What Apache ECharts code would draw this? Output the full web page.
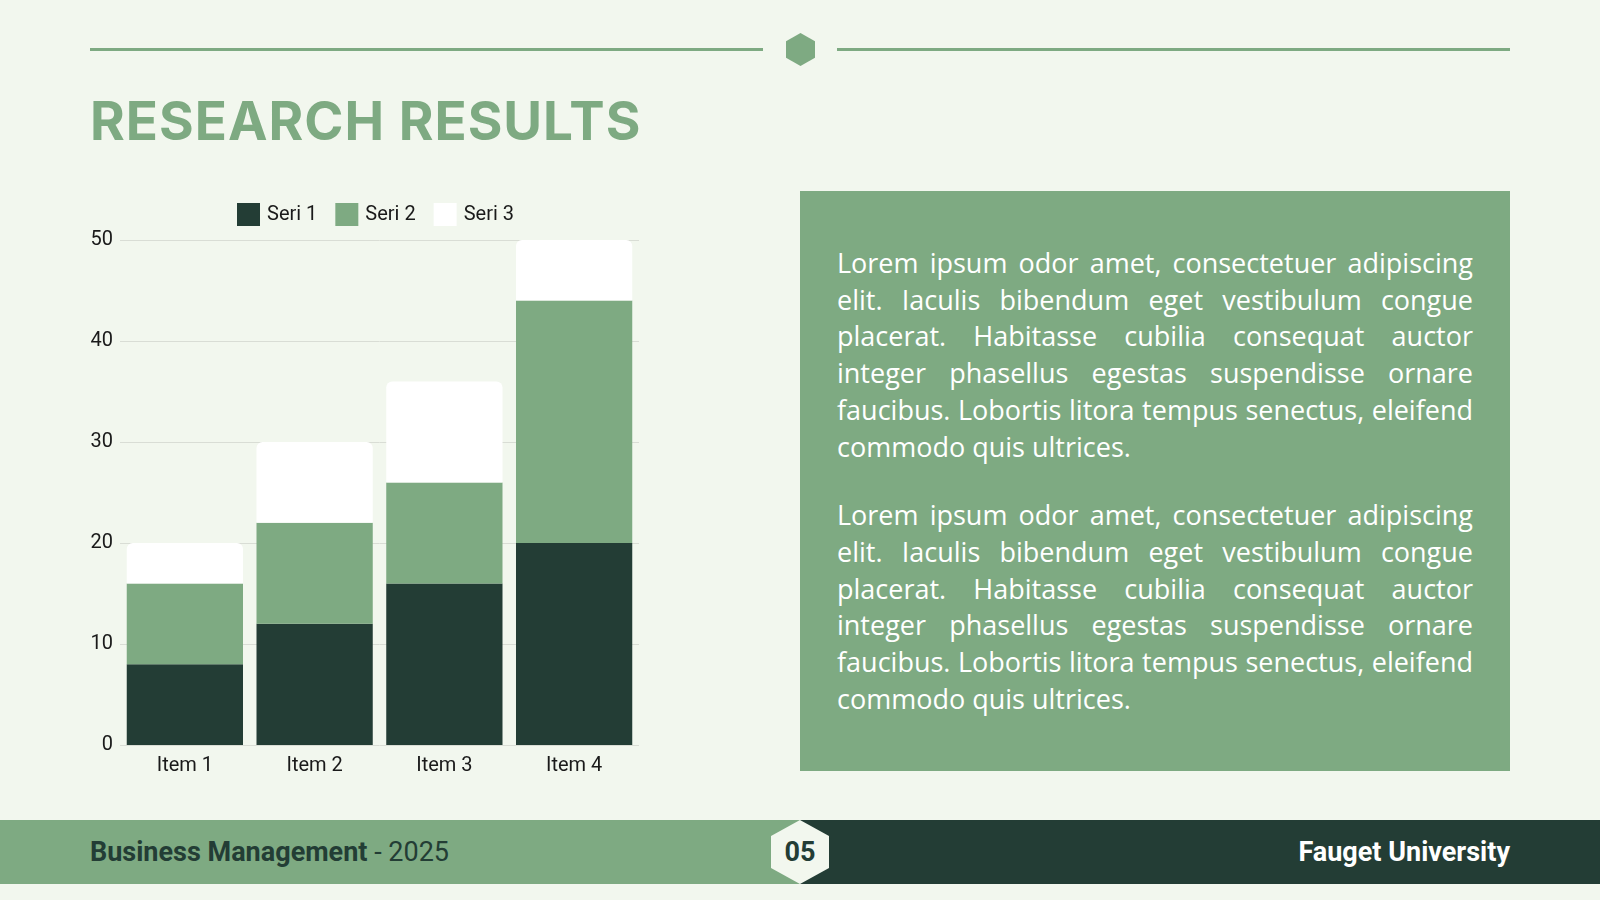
<!DOCTYPE html>
<html>
<head>
<meta charset="utf-8">
<script src="https://cdn.jsdelivr.net/npm/echarts@6/dist/echarts.min.js"></script>
<style>
  html, body { margin: 0; padding: 0; }
  body { width: 1600px; height: 900px; background: #f2f7ee; position: relative; overflow: hidden; font-family: Roboto, sans-serif; }
  .rule { position: absolute; top: 48px; height: 3px; background: #7eaa82; }
  .hex { position: absolute; clip-path: polygon(50% 0, 100% 25%, 100% 75%, 50% 100%, 0 75%, 0 25%); }
  #title { position: absolute; left: 90px; top: 86px; margin: 0; font-family: Inter, sans-serif; font-weight: 700; font-size: 53px; letter-spacing: 1px; color: #7eaa82; line-height: 70px; }
  #chart { position: absolute; left: 0; top: 0; width: 780px; height: 800px; }
  #box { position: absolute; left: 800px; top: 191px; width: 710px; height: 580px; background: #7eaa82; }
  #box p { margin: 0 37px 0 37px; font-family: "Open Sans", sans-serif; font-size: 27px; line-height: 36.7px; color: #ffffff; text-align: justify; }
  #footer { position: absolute; left: 0; top: 820px; width: 1600px; height: 64px; }
  #footer .l { position: absolute; left: 0; top: 0; width: 800px; height: 64px; background: #7eaa82; }
  #footer .r { position: absolute; left: 800px; top: 0; width: 800px; height: 64px; background: #233d35; }
  #footer .t1 { position: absolute; left: 90px; top: 0; line-height: 64px; font-size: 27px; color: #233d35; }
  #footer .t2 { position: absolute; right: 90px; top: 0; line-height: 64px; font-size: 27px; color: #ffffff; font-weight: 700; }
  #footer .num { position: absolute; left: 771px; top: 0; width: 58px; height: 64px; background: #f2f7ee; line-height: 64px; text-align: center; font-size: 27px; font-weight: 700; color: #233d35; }
</style>
</head>
<body>
<div class="rule" style="left:90px;width:673px"></div>
<div class="rule" style="left:837px;width:673px"></div>
<div class="hex" style="left:786px;top:33px;width:29px;height:33px;background:#7eaa82"></div>
<h1 id="title">RESEARCH RESULTS</h1>
<div id="chart"></div>
<div id="box">
  <p style="margin-top:54px">Lorem ipsum odor amet, consectetuer adipiscing elit. Iaculis bibendum eget vestibulum congue placerat. Habitasse cubilia consequat auctor integer phasellus egestas suspendisse ornare faucibus. Lobortis litora tempus senectus, eleifend commodo quis ultrices.</p>
  <p style="margin-top:32px">Lorem ipsum odor amet, consectetuer adipiscing elit. Iaculis bibendum eget vestibulum congue placerat. Habitasse cubilia consequat auctor integer phasellus egestas suspendisse ornare faucibus. Lobortis litora tempus senectus, eleifend commodo quis ultrices.</p>
</div>
<div id="footer">
  <div class="l"></div>
  <div class="r"></div>
  <div class="t1"><b>Business Management</b> - 2025</div>
  <div class="t2">Fauget University</div>
  <div class="hex num">05</div>
</div>
<script>
const categories = ['Item 1', 'Item 2', 'Item 3', 'Item 4'];
const seri1 = [8, 12, 16, 20];
const seri2 = [8, 10, 10, 24];
const seri3 = [4, 8, 10, 6];
const seriesNames = ['Seri 1', 'Seri 2', 'Seri 3'];
const colors = ['#233d35', '#7eaa82', '#ffffff'];

const chart = echarts.init(document.getElementById('chart'));
const labelFont = { fontFamily: 'Roboto', fontSize: 20, color: '#1a1a1a' };

chart.setOption({
  animation: false,
  color: colors,
  legend: {
    left: 237,
    top: 203,
    padding: 0,
    itemWidth: 23,
    itemHeight: 23,
    itemGap: 18,
    icon: 'rect',
    textStyle: Object.assign({ padding: [0, 0, 0, 2] }, labelFont),
    data: seriesNames
  },
  grid: { left: 120, top: 240, width: 519, height: 505 },
  xAxis: {
    type: 'category',
    data: categories,
    axisLine: { show: false },
    axisTick: { show: false },
    axisLabel: Object.assign({ margin: 11 }, labelFont)
  },
  yAxis: {
    type: 'value',
    min: 0,
    max: 50,
    interval: 10,
    axisLabel: Object.assign({ margin: 7, padding: [3, 0, 0, 0] }, labelFont),
    splitLine: { lineStyle: { color: '#d9ddd5', width: 1 } }
  },
  series: [
    { name: seriesNames[0], type: 'bar', stack: 'a', data: seri1, barCategoryGap: '10.4%', itemStyle: { color: colors[0] } },
    { name: seriesNames[1], type: 'bar', stack: 'a', data: seri2, itemStyle: { color: colors[1] } },
    { name: seriesNames[2], type: 'bar', stack: 'a', data: seri3, itemStyle: { color: colors[2], borderRadius: [6, 6, 0, 0] } }
  ]
});
</script>
</body>
</html>
